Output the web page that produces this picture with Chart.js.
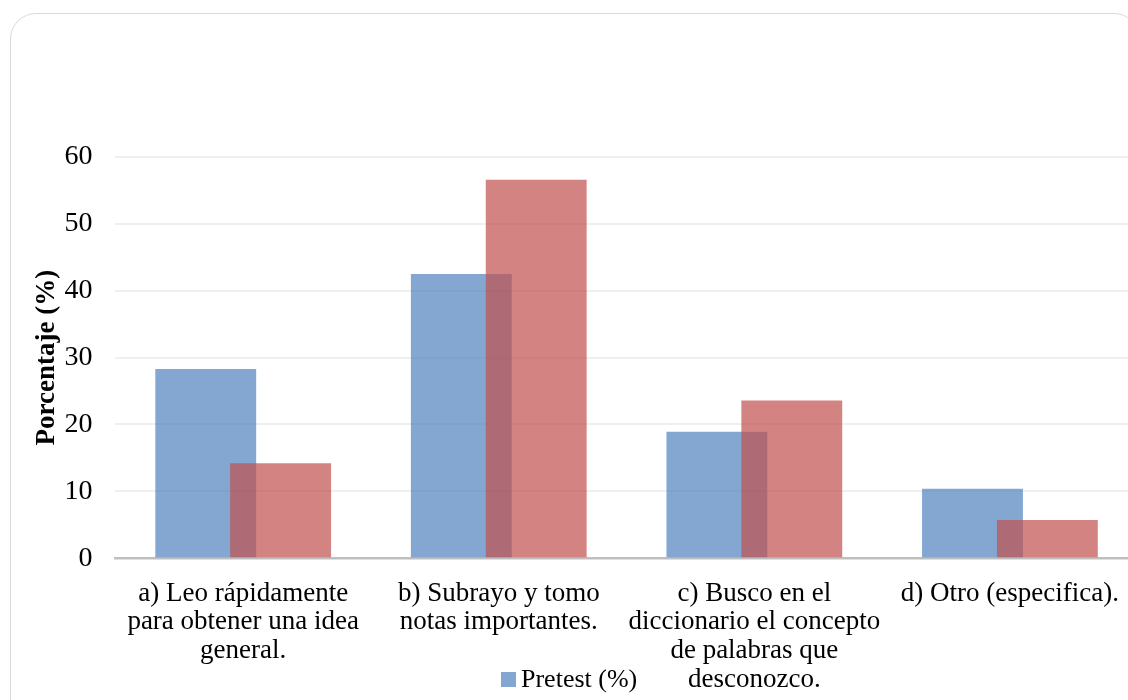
<!DOCTYPE html>
<html>
<head>
<meta charset="utf-8">
<script src="https://cdn.jsdelivr.net/npm/chart.js@4/dist/chart.umd.min.js"></script>
<style>
  html, body { margin: 0; padding: 0; background: #fff; overflow: hidden; width: 1128px; height: 700px; }
  .card {
    position: absolute; left: 10px; top: 13px; width: 1130px; height: 740px;
    border: 1.5px solid #dadada; border-radius: 26px; box-sizing: border-box;
  }
  .chart-box { position: absolute; left: 0; top: 0; width: 1140px; height: 723px; }
  .legend {
    position: absolute; left: 501px; top: 664px;
    font-family: "Liberation Serif", "Times New Roman", serif; font-size: 26px; color: #000;
    display: flex; align-items: center; white-space: nowrap; line-height: 30px;
  }
  .legend .box { width: 15px; height: 15px; margin-right: 5px; display: inline-block; }
</style>
</head>
<body>
<div class="card"></div>
<div class="chart-box"><canvas id="grafico"></canvas></div>
<div class="legend" id="leyenda"></div>
<script>
// Datos
const categorias = [
    ['a) Leo rápidamente', 'para obtener una idea', 'general.'],
    ['b) Subrayo y tomo', 'notas importantes.'],
    ['c) Busco en el', 'diccionario el concepto', 'de palabras que', 'desconozco.'],
    ['d) Otro (especifica).']
];
const pretest = [28.3, 42.5, 18.9, 10.4];
const postest = [14.2, 56.6, 23.6, 5.7];
const yMax = 60;
const yPaso = 10;

const colorPre = 'rgba(79, 129, 189, 0.7)';
const colorPost = 'rgba(192, 80, 77, 0.7)';
const fuente = '"Liberation Serif", "Times New Roman", serif';

// Dibujar las series en su orden natural (la roja encima de la azul)
const dibujarEnOrden = {
    id: 'dibujarEnOrden',
    beforeDatasetsDraw(chart) {
        const area = chart.chartArea;
        const ctx = chart.ctx;
        ctx.save();
        ctx.beginPath();
        ctx.rect(area.left, area.top, area.right - area.left, area.bottom - area.top);
        ctx.clip();
        for (let i = 0; i < chart.data.datasets.length; i++) {
            const meta = chart.getDatasetMeta(i);
            if (!meta.hidden) meta.controller.draw();
        }
        ctx.restore();
        return false;
    }
};

document.addEventListener('DOMContentLoaded', function() {
    const ctx = document.getElementById('grafico').getContext('2d');
    new Chart(ctx, {
        type: 'bar',
        data: {
            labels: categorias,
            datasets: [
                { label: 'Pretest (%)', data: pretest, backgroundColor: colorPre, borderWidth: 0 },
                { label: 'Postest (%)', data: postest, backgroundColor: colorPost, borderWidth: 0 }
            ]
        },
        plugins: [dibujarEnOrden],
        options: {
            responsive: true,
            maintainAspectRatio: false,
            animation: false,
            categoryPercentage: 0.586,
            barPercentage: 1.347,
            layout: { padding: { left: 31, top: 157, right: 0, bottom: 8 } },
            plugins: {
                legend: { display: false },
                tooltip: { enabled: false }
            },
            scales: {
                x: {
                    grid: { display: false, drawTicks: false },
                    border: { display: true, color: '#bfbfbf', width: 2.5 },
                    ticks: {
                        color: '#000', padding: 21, maxRotation: 0, autoSkip: false,
                        font: { family: fuente, size: 27, lineHeight: 1.063 }
                    }
                },
                y: {
                    min: 0, max: yMax,
                    grid: { color: '#efefef', lineWidth: 2, drawTicks: false },
                    border: { display: false },
                    ticks: {
                        stepSize: yPaso, color: '#000', padding: 23,
                        font: { family: fuente, size: 28 }
                    },
                    title: {
                        display: true, text: 'Porcentaje (%)', color: '#000',
                        padding: { top: 0, bottom: -22 },
                        font: { family: fuente, size: 27, weight: 'bold' }
                    }
                }
            }
        }
    });

    // Leyenda (en el original solo se ve el primer elemento)
    const leyenda = document.getElementById('leyenda');
    leyenda.innerHTML = `<span class="box" style="background:${colorPre}"></span><span>Pretest (%)</span>`;
});
</script>
</body>
</html>
